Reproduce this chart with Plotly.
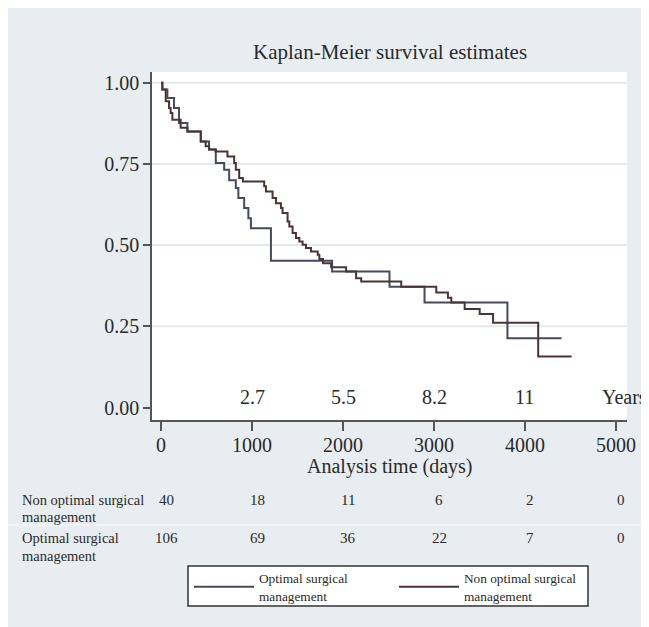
import plotly.graph_objects as go

# ---------------- data ----------------
opt_days = [0, 15, 70, 143, 198, 290, 437, 528, 602, 694, 749, 822, 850, 914, 960, 988,
            1208, 1880, 2511, 2896, 3807, 4402]
opt_surv = [1.0, 0.979, 0.953, 0.922, 0.876, 0.850, 0.819, 0.794, 0.753, 0.732, 0.70,
            0.676, 0.645, 0.614, 0.583, 0.552, 0.452, 0.419, 0.372, 0.323, 0.213, 0.213]

non_days = [0, 15, 52, 88, 106, 125, 216, 290, 437, 491, 528, 600, 730, 804, 822, 859, 900,
            1134, 1153, 1226, 1263, 1318, 1336, 1391, 1410, 1446, 1483, 1520, 1556, 1593,
            1648, 1722, 1740, 1780, 1870, 2034, 2144, 2200, 2640, 3025, 3153, 3190, 3337,
            3502, 3649, 4145, 4512]
non_surv = [1.0, 0.979, 0.943, 0.922, 0.907, 0.886, 0.861, 0.850, 0.819, 0.804, 0.794,
            0.788, 0.773, 0.753, 0.732, 0.707, 0.696, 0.681, 0.665, 0.645, 0.629, 0.614,
            0.599, 0.573, 0.557, 0.537, 0.522, 0.511, 0.501, 0.491, 0.480, 0.470, 0.457,
            0.444, 0.432, 0.419, 0.398, 0.388, 0.372, 0.354, 0.338, 0.323, 0.303, 0.288,
            0.261, 0.157, 0.157]

x_ticks = [0, 1000, 2000, 3000, 4000, 5000]
y_ticks = [0.0, 0.25, 0.50, 0.75, 1.00]
y_tick_labels = ["0.00", "0.25", "0.50", "0.75", "1.00"]
year_pos = [1000, 2000, 3000, 4000]
year_labels = ["2.7", "5.5", "8.2", "11"]

risk_non = [40, 18, 11, 6, 2, 0]
risk_opt = [106, 69, 36, 22, 7, 0]

# ---------------- figure ----------------
# the page body adds an 8px white margin; figure coordinates = page - 8
W, H = 641, 619
ML, MR, MT, MB = 144, 22, 64, 207
PW, PH = W - ML - MR, H - MT - MB


def px(x):
    return (x - ML) / PW


def py(y):
    return (H - MB - y) / PH


FONT = "Liberation Serif"
TXT = "#2a2a2a"
BG = "#e8edf1"

fig = go.Figure()
fig.add_trace(go.Scatter(x=opt_days, y=opt_surv, mode="lines", line_shape="hv",
                         line=dict(color="#454b5c", width=2),
                         name="Optimal surgical<br>management", legend="legend"))
fig.add_trace(go.Scatter(x=non_days, y=non_surv, mode="lines", line_shape="hv",
                         line=dict(color="#4d3434", width=2),
                         name="Non optimal surgical<br>management", legend="legend2"))

shapes = []
for g in [0.25, 0.5, 0.75, 1.0]:
    shapes.append(dict(type="line", xref="paper", yref="y", x0=0, x1=1, y0=g, y1=g,
                       line=dict(color="#e3e9ee", width=2), layer="below"))
# table row separator
shapes.append(dict(type="line", xref="paper", yref="paper", x0=px(0), x1=px(W),
                   y0=py(517), y1=py(517), line=dict(color="#f6f8fa", width=1.5)))
# legend frame (both legend entries sit inside)
shapes.append(dict(type="rect", xref="paper", yref="paper", x0=px(180), x1=px(580),
                   y0=py(598), y1=py(558), fillcolor="white",
                   line=dict(color="#333", width=1.5), layer="below"))

ann = []
ann.append(dict(text="Kaplan-Meier survival estimates", xref="paper", yref="paper",
                x=0.5, y=py(44), xanchor="center", yanchor="middle", showarrow=False,
                font=dict(family=FONT, size=21, color=TXT)))
ann.append(dict(text="Analysis time (days)", xref="paper", yref="paper",
                x=0.5, y=py(458), xanchor="center", yanchor="middle", showarrow=False,
                font=dict(family=FONT, size=20, color=TXT)))
for xp, lab in zip(year_pos, year_labels):
    ann.append(dict(text=lab, xref="x", yref="y", x=xp, y=0.032, showarrow=False,
                    xanchor="center", yanchor="middle",
                    font=dict(family=FONT, size=20, color=TXT)))
ann.append(dict(text="Years", xref="x", yref="y", x=4824, y=0.032, xanchor="left",
                yanchor="middle", showarrow=False, font=dict(family=FONT, size=20, color=TXT)))

row_lines = [("Non optimal surgical", 492), ("management", 509),
             ("Optimal surgical", 530), ("management", 548)]
for t, yy in row_lines:
    ann.append(dict(text=t, xref="paper", yref="paper", x=px(12), y=py(yy), xanchor="left",
                    yanchor="middle", showarrow=False,
                    font=dict(family=FONT, size=14.5, color=TXT)))
for xv, a, b in zip(x_ticks, risk_non, risk_opt):
    ann.append(dict(text=str(a), xref="x", yref="paper", x=xv, xshift=5, y=py(492),
                    xanchor="center", yanchor="middle", showarrow=False,
                    font=dict(family=FONT, size=15, color=TXT)))
    ann.append(dict(text=str(b), xref="x", yref="paper", x=xv, xshift=5, y=py(530),
                    xanchor="center", yanchor="middle", showarrow=False,
                    font=dict(family=FONT, size=15, color=TXT)))

leg_common = dict(orientation="h", xanchor="left", yanchor="top",
                  bgcolor="rgba(0,0,0,0)", borderwidth=0,
                  font=dict(family=FONT, size=13.3, color=TXT), itemwidth=60)

fig.update_layout(
    width=W, height=H,
    margin=dict(l=ML, r=MR, t=MT, b=MB, pad=0, autoexpand=False),
    paper_bgcolor=BG, plot_bgcolor="white",
    font=dict(family=FONT, color=TXT),
    shapes=shapes, annotations=ann,
    xaxis=dict(range=[-99, 5121], tickvals=x_ticks, showgrid=False, zeroline=False,
               showline=True, linecolor="#555", linewidth=1.5, ticks="outside",
               ticklen=9, tickcolor="#555", tickwidth=1.5, ticklabelstandoff=-3,
               tickfont=dict(family=FONT, size=20, color=TXT)),
    yaxis=dict(range=[-0.0385, 1.033], tickvals=y_ticks, ticktext=y_tick_labels,
               showgrid=False, zeroline=False, showline=True, linecolor="#555",
               linewidth=1.5, ticks="outside", ticklen=7, tickcolor="#555", tickwidth=1.5,
               tickfont=dict(family=FONT, size=20, color=TXT)),
    legend=dict(x=px(181), y=py(555), **leg_common),
    legend2=dict(x=px(386), y=py(555), **leg_common),
    showlegend=True,
)

fig.write_html("out.html")
